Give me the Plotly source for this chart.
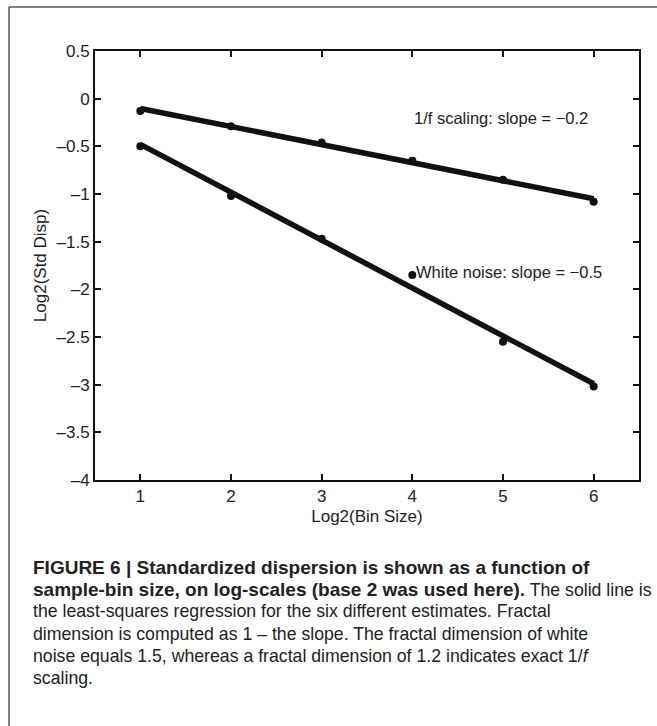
import plotly.graph_objects as go
import numpy as np

# ---- data ----
bin_size_log2 = [1, 2, 3, 4, 5, 6]
pink_noise = [-0.13, -0.29, -0.46, -0.65, -0.85, -1.08]
white_noise = [-0.50, -1.02, -1.47, -1.85, -2.55, -3.02]
y_tick_vals = [0.5, 0, -0.5, -1, -1.5, -2, -2.5, -3, -3.5, -4]
y_tick_text = ["0.5", "0", "–0.5", "–1", "–1.5", "–2", "–2.5", "–3", "–3.5", "–4"]
x_tick_vals = [1, 2, 3, 4, 5, 6]
x_tick_text = ["1", "2", "3", "4", "5", "6"]

W, H = 657, 726
L, R, T, B = 95, 18, 51, 246
PW, PH = W - L - R, H - T - B

def px(x):
    return (x - L) / PW

def py(y):
    return 1 - (y - T) / PH

FAM = "Liberation Sans, Arial, sans-serif"
fig = go.Figure()

for ys in (pink_noise, white_noise):
    k, b = np.polyfit(bin_size_log2, ys, 1)
    xf = [bin_size_log2[0], bin_size_log2[-1]]
    fig.add_trace(go.Scatter(x=xf, y=[k * v + b for v in xf], mode="lines",
                             line=dict(color="#111111", width=5.5), showlegend=False,
                             hoverinfo="skip"))
    fig.add_trace(go.Scatter(x=bin_size_log2, y=ys, mode="markers",
                             marker=dict(color="#111111", size=8), showlegend=False))

afont = dict(family=FAM, size=16.5, color="#222222")
fig.add_annotation(x=4.0, y=-0.2, text="1/f scaling: slope = −0.2", showarrow=False,
                   xanchor="left", yanchor="middle", font=afont)
fig.add_annotation(x=4.02, y=-1.82, text="White noise: slope = −0.5", showarrow=False,
                   xanchor="left", yanchor="middle", font=afont)

axis_common = dict(showline=True, linecolor="#111111", linewidth=2, mirror="ticks",
                   ticks="inside", ticklen=6, tickwidth=1.5, tickcolor="#111111",
                   showgrid=False, zeroline=False,
                   tickfont=dict(family=FAM, size=17, color="#222222"))

fig.update_xaxes(range=[0.5, 6.5], tickvals=x_tick_vals, ticktext=x_tick_text,
                 title=dict(text="Log2(Bin Size)", standoff=5,
                            font=dict(family=FAM, size=17, color="#222222")),
                 **axis_common)
fig.update_yaxes(range=[-4, 0.5], tickvals=y_tick_vals, ticktext=y_tick_text,
                 title=dict(text="Log2(Std Disp)", standoff=6,
                            font=dict(family=FAM, size=17, color="#222222")),
                 **axis_common)

# outer frame (left and top edges)
fig.add_shape(type="line", xref="paper", yref="paper", x0=px(9), x1=px(657), y0=py(7), y1=py(7),
              line=dict(color="#555555", width=1.5))
fig.add_shape(type="line", xref="paper", yref="paper", x0=px(9), x1=px(9), y0=py(7), y1=py(726),
              line=dict(color="#555555", width=1.5))

BOLD = '<span style="font-size:19px"><b>%s</b></span>'
cap_lines = [
    BOLD % "FIGURE 6 | Standardized dispersion is shown as a function of",
    BOLD % "sample-bin size, on log-scales (base 2 was used here)." + " The solid line is",
    "the least-squares regression for the six different estimates. Fractal",
    "dimension is computed as 1 – the slope. The fractal dimension of white",
    "noise equals 1.5, whereas a fractal dimension of 1.2 indicates exact 1/<i>f</i>",
    "scaling.",
]
cfont = dict(family=FAM, size=17.7, color="#222222")
for i, line in enumerate(cap_lines):
    fig.add_annotation(xref="paper", yref="paper", x=px(31), y=py(567 + 22.2 * i), text=line,
                       showarrow=False, xanchor="left", yanchor="middle", font=cfont, align="left")

fig.update_layout(width=W, height=H, margin=dict(l=L, r=R, t=T, b=B),
                  paper_bgcolor="white", plot_bgcolor="white")

fig.write_html("out.html", config={"displayModeBar": False},
               post_script="document.body.style.margin='0';document.body.style.overflow='hidden';")
